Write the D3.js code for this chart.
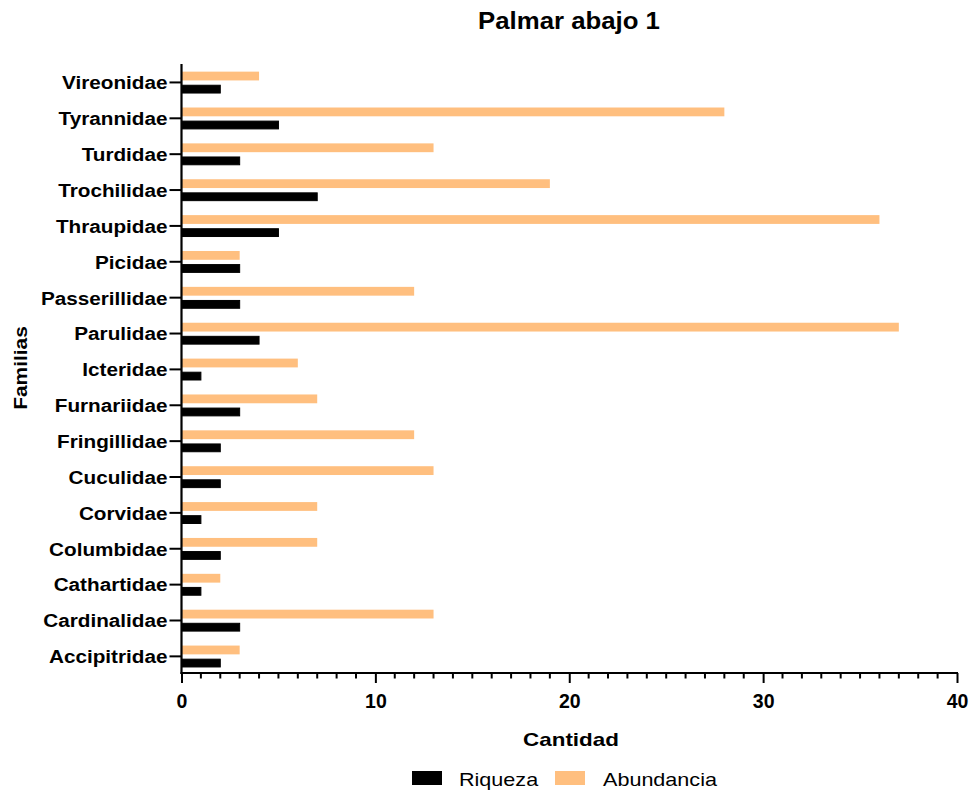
<!DOCTYPE html>
<html><head><meta charset="utf-8">
<script src="https://cdn.jsdelivr.net/npm/d3@7"></script>
<style>body{margin:0;background:#fff;}svg{font-family:"Liberation Sans",Arial,sans-serif;}</style>
</head><body><svg id="c" width="974" height="791"></svg>
<script>
const categories = ["Accipitridae","Cardinalidae","Cathartidae","Columbidae","Corvidae","Cuculidae","Fringillidae","Furnariidae","Icteridae","Parulidae","Passerillidae","Picidae","Thraupidae","Trochilidae","Turdidae","Tyrannidae","Vireonidae"];
const riqueza =    [2,3,1,2,1,2,2,3,1,4,3,3,5,7,3,5,2];
const abundancia = [3,13,2,7,7,13,12,7,6,37,12,3,36,19,13,28,4];
const seriesNames = ["Riqueza","Abundancia"];
const xTicks = [0,10,20,30,40];

(function(){
const svg = d3.select("#c");
const pl = 181.5, pr = 957, pt = 64, pb = 673;
const x = d3.scaleLinear().domain([0,40]).range([pl,pr]);
const y = d3.scaleBand().domain(categories).range([674.3, 64.5]).paddingInner(0).paddingOuter(0);
const colors = {Riqueza:"#000000", Abundancia:"#FFBF7F"};

function stretch(sel, f){
  sel.each(function(){
    const len = this.getComputedTextLength();
    d3.select(this).attr("textLength", len*f).attr("lengthAdjust","spacingAndGlyphs");
  });
}

const g = svg.append("g");
categories.forEach((c,i)=>{
  const cy = y(c) + y.bandwidth()/2;
  g.append("rect").attr("x", x(0)).attr("y", cy-10.8).attr("width", x(abundancia[i])-x(0)).attr("height", 8.8).attr("fill", colors.Abundancia);
  g.append("rect").attr("x", x(0)).attr("y", cy+2.8).attr("width", x(riqueza[i])-x(0)).attr("height", 7.8).attr("fill", colors.Riqueza).attr("stroke","#000").attr("stroke-width",1);
});

const xa = svg.append("g").attr("transform",`translate(0,${pb})`);
xa.call(d3.axisBottom(x).tickValues(xTicks).tickSize(10).tickSizeOuter(0).tickPadding(8));
xa.select(".domain").attr("stroke-width",2.2).attr("d",`M${pl-1},0H${pr+1}`);
xa.selectAll(".tick line").attr("stroke-width",2);
xa.selectAll("text").attr("font-size",19.5).attr("font-weight","bold").attr("fill","#000")
  .attr("font-family","Liberation Sans, Arial").attr("dy",null).attr("y",35);
const minor = d3.range(0,41).filter(v=>v%10!==0);
xa.selectAll(".minor").data(minor).enter().append("line").attr("x1",d=>x(d)).attr("x2",d=>x(d)).attr("y1",0).attr("y2",5.5).attr("stroke","#000").attr("stroke-width",2);

const ya = svg.append("g").attr("transform",`translate(${pl},0)`);
ya.call(d3.axisLeft(y).tickSize(12).tickSizeOuter(0).tickPadding(2));
ya.select(".domain").attr("stroke-width",2.2).attr("d",`M0,${pt}V${pb+1}`);
ya.selectAll(".tick line").attr("stroke-width",2);
ya.selectAll("text").attr("font-size",18).attr("font-weight","bold").attr("fill","#000")
  .attr("font-family","Liberation Sans, Arial").attr("dy","0.38em");
stretch(ya.selectAll("text"), 1.15);

const title = svg.append("text").attr("x",569).attr("y",29).attr("text-anchor","middle").attr("font-size",23).attr("font-weight","bold").text("Palmar abajo 1");
stretch(title, 1.12);
const xl = svg.append("text").attr("x",571).attr("y",746).attr("text-anchor","middle").attr("font-size",19).attr("font-weight","bold").text("Cantidad");
stretch(xl, 1.18);
const yl = svg.append("text").attr("transform","translate(27,368) rotate(-90)").attr("text-anchor","middle").attr("font-size",19).attr("font-weight","bold").text("Familias");
stretch(yl, 1.1);

const leg = [{n:seriesNames[0],rx:412,tx:459},{n:seriesNames[1],rx:555,tx:603}];
leg.forEach(l=>{
  svg.append("rect").attr("x",l.rx).attr("y",771).attr("width",30).attr("height",14).attr("fill",colors[l.n]);
  const t = svg.append("text").attr("x",l.tx).attr("y",786).attr("font-size",18.6).text(l.n);
  stretch(t, 1.16);
});
})();
</script></body></html>
